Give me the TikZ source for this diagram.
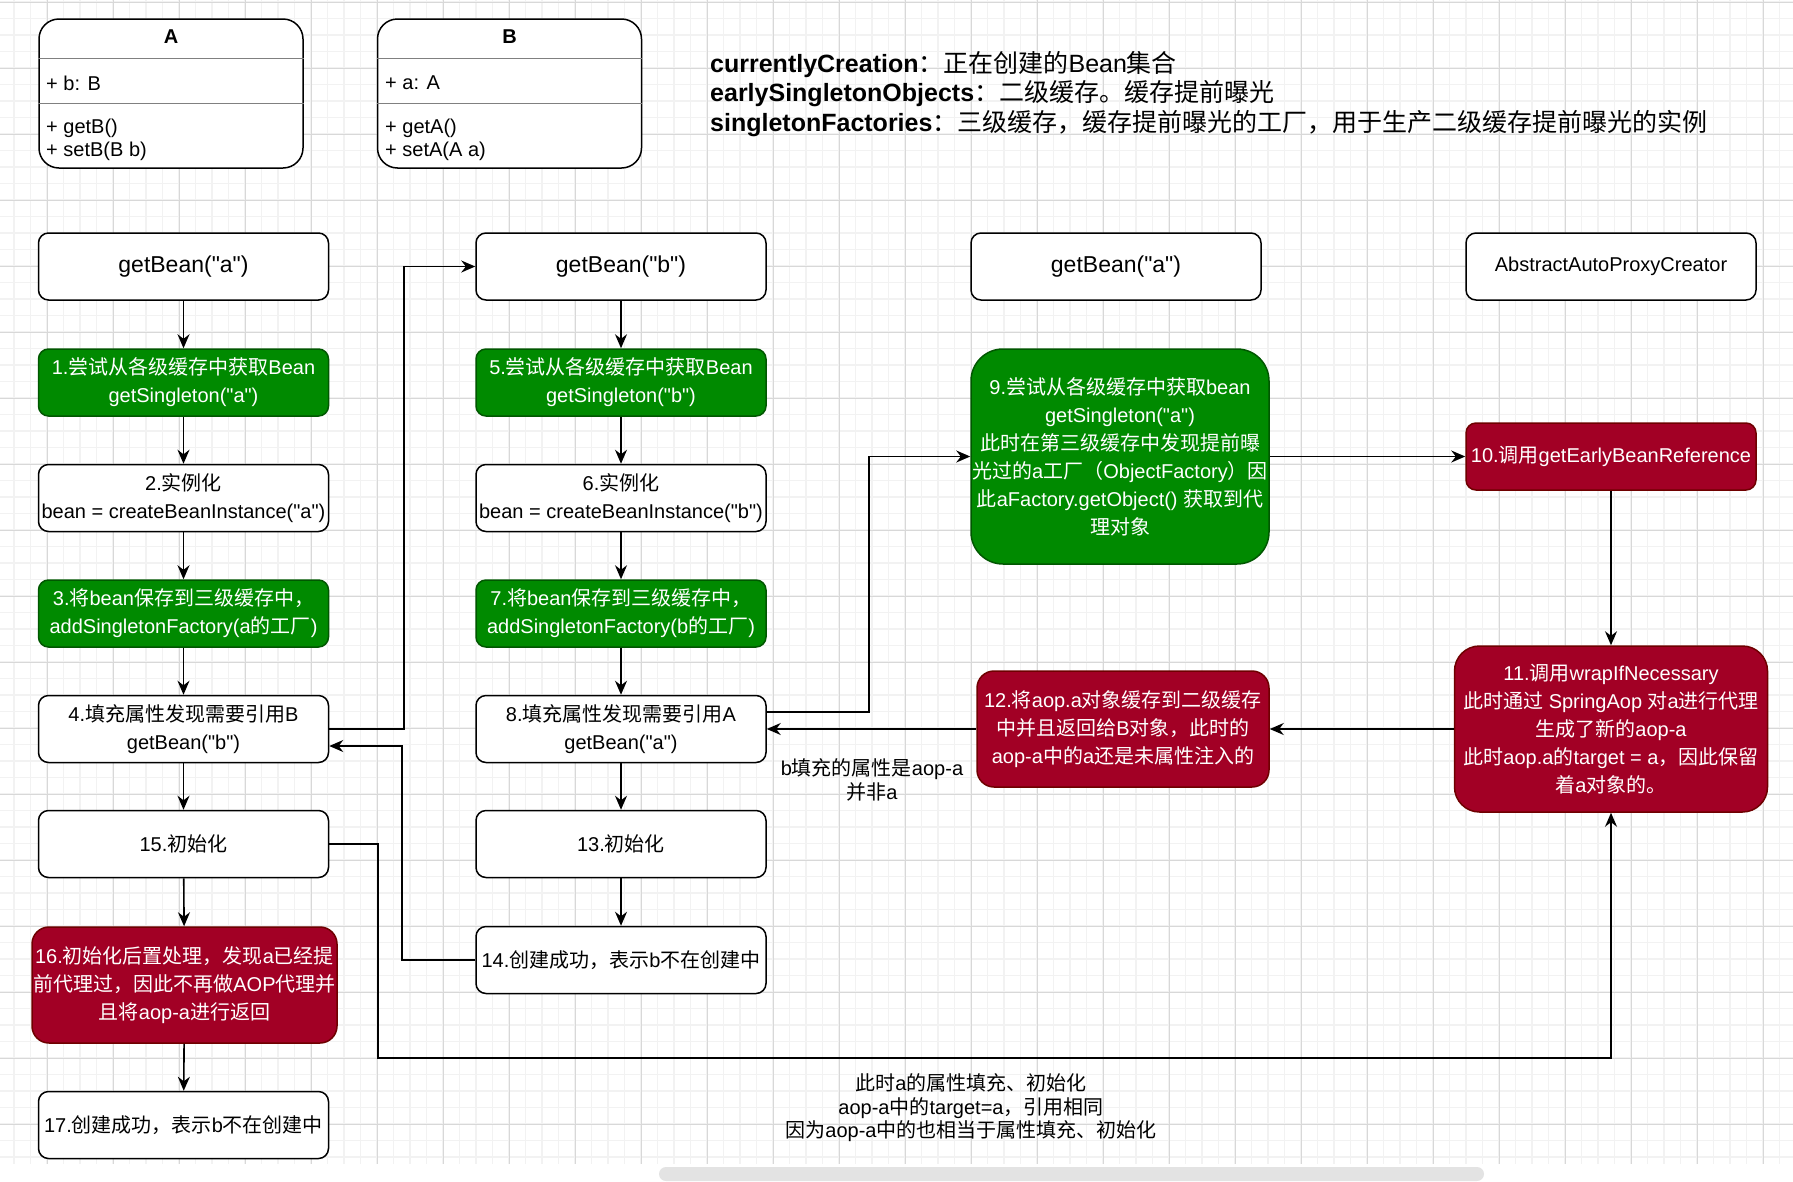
\documentclass[tikz,border=0pt]{standalone}
\usepackage{fontspec}
\setmainfont{Liberation Sans}[Ligatures=TeXOff]
\newfontfamily\zhfont{Noto Sans CJK SC}
% switch to the CJK font for Chinese characters
\XeTeXinterchartokenstate=1
\newXeTeXintercharclass\zhclass
\makeatletter
\count@="3000
\loop\XeTeXcharclass\count@=\zhclass\ifnum\count@<"303F\advance\count@ by 1\repeat
\count@="4E00
\loop\XeTeXcharclass\count@=\zhclass\ifnum\count@<"9FFF\advance\count@ by 1\repeat
\count@="FF00
\loop\XeTeXcharclass\count@=\zhclass\ifnum\count@<"FFEF\advance\count@ by 1\repeat
\makeatother
\XeTeXinterchartoks 0 \zhclass = {\begingroup\zhfont}
\XeTeXinterchartoks 4095 \zhclass = {\begingroup\zhfont}
\XeTeXinterchartoks \zhclass 0 = {\endgroup}
\XeTeXinterchartoks \zhclass 4095 = {\endgroup}
\usepackage{tikz}
\usetikzlibrary{positioning,calc,arrows.meta}
\definecolor{sgreen}{HTML}{008A00}
\definecolor{sgreend}{HTML}{005700}
\definecolor{sred}{HTML}{A20025}
\definecolor{sredd}{HTML}{6F0000}
\definecolor{gminor}{HTML}{F2F2F2}
\definecolor{gmajor}{HTML}{D8D8D8}
\definecolor{sbar}{HTML}{E3E3E3}

\begin{document}
\begin{tikzpicture}[x=1pt, y=-1pt, >=Stealth,
  box/.style={draw=black, line width=1.5pt, fill=white, rounded corners=10pt,
              align=center, minimum width=290pt, minimum height=67pt, inner sep=1pt,
              font=\fontsize{20}{28}\selectfont},
  head/.style={box, font=\fontsize{23}{28}\selectfont},
  gbox/.style={box, fill=sgreen, draw=sgreend, text=white},
  rbox/.style={box, fill=sred, draw=sredd, text=white},
  cls/.style={draw=black, line width=1.5pt, fill=white, rounded corners=20pt,
              minimum width=264pt, minimum height=149pt},
  member/.style={align=left, inner sep=0pt, font=\fontsize{20}{23}\selectfont},
  legend/.style={align=left, inner sep=0pt, font=\fontsize{25}{29.5}\selectfont},
  note/.style={align=center, inner sep=0pt, font=\fontsize{20}{23.5}\selectfont},
  sep/.style={draw=gray, line width=1pt},
  arr/.style={-{Stealth[length=14pt, width=12pt]}, line width=1.6pt}]
  \useasboundingbox (0,0) rectangle (1793,1181);
  \fill[white] (0,0) rectangle (1793,1181);
  % --- grid of the canvas
  \foreach \k in {0,...,108}
    \draw[gminor, line width=1.5pt] ({14+16.5*\k},0) -- ({14+16.5*\k},1164);
  \foreach \k in {0,...,70}
    \draw[gminor, line width=1.5pt] (0,{2+16.5*\k}) -- (1793,{2+16.5*\k});
  \foreach \k in {0,...,26}
    \draw[gmajor, line width=1pt] ({47+66*\k},0) -- ({47+66*\k},1164);
  \foreach \k in {0,...,17}
    \draw[gmajor, line width=1pt] (0,{2+66*\k}) -- (1793,{2+66*\k});
  \fill[sbar, rounded corners=7pt] (659,1167) rectangle (1484,1181);
  % --- class boxes
  \node[cls] (clsA) at (171,93.5) {};
  \node[cls] (clsB) at (509.5,93.5) {};
  \draw[sep] ($(clsA.north west)+(0,40)$) -- ($(clsA.north east)+(0,40)$);
  \draw[sep] ($(clsA.north west)+(0,85)$) -- ($(clsA.north east)+(0,85)$);
  \draw[sep] ($(clsB.north west)+(0,40)$) -- ($(clsB.north east)+(0,40)$);
  \draw[sep] ($(clsB.north west)+(0,85)$) -- ($(clsB.north east)+(0,85)$);
  \node[font=\bfseries\fontsize{20}{24}\selectfont] (clsAt) at (171,37) {A};
  \node[member, anchor=west] (clsAf) at (46,83) {+ b: B};
  \node[member, anchor=west] (clsAm) at (46,139.5) {+ getB()\\+ setB(B b)};
  \node[font=\bfseries\fontsize{20}{24}\selectfont] (clsBt) at (509.5,37) {B};
  \node[member, anchor=west] (clsBf) at (385,83) {+ a: A};
  \node[member, anchor=west] (clsBm) at (385,139.5) {+ getA()\\+ setA(A a)};
  % --- legend
  \node[legend, anchor=west] (legend) at (710,94) {\textbf{currentlyCreation}：正在创建的Bean集合\\\textbf{earlySingletonObjects}：二级缓存。缓存提前曝光\\\textbf{singletonFactories}：三级缓存，缓存提前曝光的工厂，用于生产二级缓存提前曝光的实例};
  % --- getBean("a")
  \node[head] (ga) at (183.5,266.5) {getBean("a")};
  \node[gbox] (s1) at (183.5,382.5) {1.尝试从各级缓存中获取Bean\\getSingleton("a")};
  \node[box] (s2) at (183.5,498) {2.实例化\\bean = createBeanInstance("a")};
  \node[gbox] (s3) at (183.5,613.5) {3.将bean保存到三级缓存中，\\addSingletonFactory(a的工厂)};
  \node[box] (s4) at (183.5,729) {4.填充属性发现需要引用B\\getBean("b")};
  \node[box] (s15) at (183.5,844) {15.初始化};
  \node[rbox, minimum width=305pt, minimum height=116pt, rounded corners=17pt] (s16) at (184.5,985)
    {16.初始化后置处理，发现a已经提\\前代理过，因此不再做AOP代理并\\且将aop-a进行返回};
  \node[box] (s17) at (183.5,1125) {17.创建成功，表示b不在创建中};
  % --- getBean("b")
  \node[head] (gb) at (621,266.5) {getBean("b")};
  \node[gbox] (s5) at (621,382.5) {5.尝试从各级缓存中获取Bean\\getSingleton("b")};
  \node[box] (s6) at (621,498) {6.实例化\\bean = createBeanInstance("b")};
  \node[gbox] (s7) at (621,613.5) {7.将bean保存到三级缓存中，\\addSingletonFactory(b的工厂)};
  \node[box] (s8) at (621,729) {8.填充属性发现需要引用A\\getBean("a")};
  \node[box] (s13) at (621,844) {13.初始化};
  \node[box] (s14) at (621,960) {14.创建成功，表示b不在创建中};
  % --- getBean("a") again and the proxy creator
  \node[head] (ga2) at (1116,266.5) {getBean("a")};
  \node[gbox, minimum width=298pt, minimum height=215pt, rounded corners=32pt] (s9) at (1120,456.5)
    {9.尝试从各级缓存中获取bean\\getSingleton("a")\\此时在第三级缓存中发现提前曝\\光过的a工厂（ObjectFactory）因\\此aFactory.getObject() 获取到代\\理对象};
  \node[rbox, minimum width=292pt, minimum height=116pt, rounded corners=17pt] (s12) at (1123,729)
    {12.将aop.a对象缓存到二级缓存\\中并且返回给B对象，此时的\\aop-a中的a还是未属性注入的};
  \node[box] (apc) at (1611,266.5) {AbstractAutoProxyCreator};
  \node[rbox] (s10) at (1611,456.5) {10.调用getEarlyBeanReference};
  \node[rbox, minimum width=313pt, minimum height=166pt, rounded corners=25pt] (s11) at (1611,729)
    {11.调用wrapIfNecessary\\此时通过 SpringAop 对a进行代理\\生成了新的aop-a\\此时aop.a的target = a，因此保留\\着a对象的。};
  \node[note] (lblb) at (872,780) {b填充的属性是aop-a\\并非a};
  \node[note] (lbla) at (971,1108) {此时a的属性填充、初始化\\aop-a中的target=a，引用相同\\因为aop-a中的也相当于属性填充、初始化};
  \coordinate (low) at (378,1058);
  % --- flow
  \draw[arr] (ga) -- (s1);
  \draw[arr] (s1) -- (s2);
  \draw[arr] (s2) -- (s3);
  \draw[arr] (s3) -- (s4);
  \draw[arr] (s4) -- (s15);
  \draw[arr] (s15) -- (s16);
  \draw[arr] (s16) -- (s17);
  \draw[arr] (gb) -- (s5);
  \draw[arr] (s5) -- (s6);
  \draw[arr] (s6) -- (s7);
  \draw[arr] (s7) -- (s8);
  \draw[arr] (s8) -- (s13);
  \draw[arr] (s13) -- (s14);
  \draw[arr] (s4.east) -- ++(74.5,0) |- (gb.west);
  \draw[arr] (s14.west) -- ++(-73,0) |- ([yshift=-17pt]s4.east);
  \draw[arr] ([yshift=17pt]s8.east) -- ++(102,0) |- (s9.west);
  \draw[arr] (s9) -- (s10);
  \draw[arr] (s10) -- (s11);
  \draw[arr] (s11) -- (s12);
  \draw[arr] (s12) -- (s8);
  \draw[arr] (s15.east) -| (low) -| (s11.south);
\end{tikzpicture}
\end{document}
